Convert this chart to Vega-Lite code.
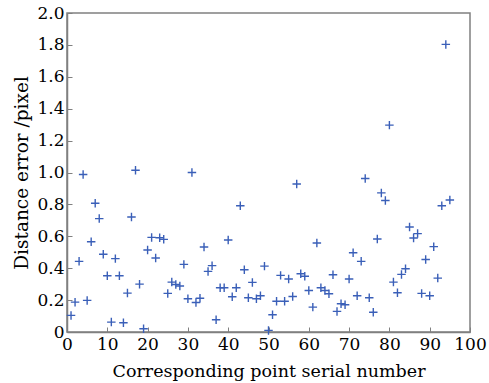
{
  "$schema": "https://vega.github.io/schema/vega-lite/v6.json",
  "width": 403,
  "height": 319,
  "autosize": "none",
  "padding": {"left": 67, "top": 13, "right": 19, "bottom": 51},
  "background": "white",
  "config": {
    "view": {"stroke": "#808080", "strokeWidth": 1.5},
    "font": "DejaVu Serif"
  },
  "data": {
    "values": [
      {"n": 1, "e": 0.104}, {"n": 2, "e": 0.187}, {"n": 3, "e": 0.443}, {"n": 4, "e": 0.987}, {"n": 5, "e": 0.198},
      {"n": 6, "e": 0.566}, {"n": 7, "e": 0.807}, {"n": 8, "e": 0.711}, {"n": 9, "e": 0.487}, {"n": 10, "e": 0.353},
      {"n": 11, "e": 0.062}, {"n": 12, "e": 0.46}, {"n": 13, "e": 0.353}, {"n": 14, "e": 0.058}, {"n": 15, "e": 0.244},
      {"n": 16, "e": 0.721}, {"n": 17, "e": 1.014}, {"n": 18, "e": 0.30}, {"n": 19, "e": 0.02}, {"n": 20, "e": 0.514},
      {"n": 21, "e": 0.593}, {"n": 22, "e": 0.464}, {"n": 23, "e": 0.591}, {"n": 24, "e": 0.581}, {"n": 25, "e": 0.242},
      {"n": 26, "e": 0.313}, {"n": 27, "e": 0.298}, {"n": 28, "e": 0.288}, {"n": 29, "e": 0.424}, {"n": 30, "e": 0.208},
      {"n": 31, "e": 1.0}, {"n": 32, "e": 0.185}, {"n": 33, "e": 0.212}, {"n": 34, "e": 0.533}, {"n": 35, "e": 0.38},
      {"n": 36, "e": 0.416}, {"n": 37, "e": 0.077}, {"n": 38, "e": 0.277}, {"n": 39, "e": 0.277}, {"n": 40, "e": 0.577},
      {"n": 41, "e": 0.221}, {"n": 42, "e": 0.277}, {"n": 43, "e": 0.792}, {"n": 44, "e": 0.39}, {"n": 45, "e": 0.215},
      {"n": 46, "e": 0.311}, {"n": 47, "e": 0.208}, {"n": 48, "e": 0.227}, {"n": 49, "e": 0.413}, {"n": 50, "e": 0.01},
      {"n": 51, "e": 0.108}, {"n": 52, "e": 0.193}, {"n": 53, "e": 0.355}, {"n": 54, "e": 0.193}, {"n": 55, "e": 0.332},
      {"n": 56, "e": 0.223}, {"n": 57, "e": 0.928}, {"n": 58, "e": 0.365}, {"n": 59, "e": 0.35}, {"n": 60, "e": 0.26},
      {"n": 61, "e": 0.156}, {"n": 62, "e": 0.558}, {"n": 63, "e": 0.277}, {"n": 64, "e": 0.26}, {"n": 65, "e": 0.24},
      {"n": 66, "e": 0.359}, {"n": 67, "e": 0.129}, {"n": 68, "e": 0.177}, {"n": 69, "e": 0.171}, {"n": 70, "e": 0.332},
      {"n": 71, "e": 0.497}, {"n": 72, "e": 0.227}, {"n": 73, "e": 0.443}, {"n": 74, "e": 0.962}, {"n": 75, "e": 0.215},
      {"n": 76, "e": 0.124}, {"n": 77, "e": 0.583}, {"n": 78, "e": 0.872}, {"n": 79, "e": 0.824}, {"n": 80, "e": 1.297},
      {"n": 81, "e": 0.313}, {"n": 82, "e": 0.246}, {"n": 83, "e": 0.361}, {"n": 84, "e": 0.397}, {"n": 85, "e": 0.658},
      {"n": 86, "e": 0.589}, {"n": 87, "e": 0.617}, {"n": 88, "e": 0.242}, {"n": 89, "e": 0.455}, {"n": 90, "e": 0.227},
      {"n": 91, "e": 0.535}, {"n": 92, "e": 0.338}, {"n": 93, "e": 0.792}, {"n": 94, "e": 1.803}, {"n": 95, "e": 0.828}
    ]
  },
  "mark": {
    "type": "point",
    "shape": "M-1,0L1,0M0,-1L0,1",
    "size": 72,
    "filled": false,
    "stroke": "#3a5fb8",
    "strokeWidth": 1.4,
    "opacity": 1
  },
  "encoding": {
    "x": {
      "field": "n",
      "type": "quantitative",
      "scale": {"domain": [0, 100], "nice": false, "zero": false},
      "axis": {
        "title": "Corresponding point serial number",
        "values": [0, 10, 20, 30, 40, 50, 60, 70, 80, 90, 100],
        "grid": false,
        "domainColor": "#808080",
        "domainWidth": 1.5,
        "tickColor": "#808080",
        "tickSize": -5,
        "labelPadding": 9,
        "labelFontSize": 17,
        "labelColor": "#000000",
        "labelFlush": false,
        "titleFontSize": 17.5,
        "titleFontWeight": "normal",
        "titleColor": "#000000",
        "titlePadding": 10
      }
    },
    "y": {
      "field": "e",
      "type": "quantitative",
      "scale": {"domain": [0, 2], "nice": false},
      "axis": {
        "title": "Distance error /pixel",
        "values": [0, 0.2, 0.4, 0.6, 0.8, 1.0, 1.2, 1.4, 1.6, 1.8, 2.0],
        "labelExpr": "datum.value == 0 ? '0' : format(datum.value, '.1f')",
        "grid": false,
        "domainColor": "#808080",
        "domainWidth": 1.5,
        "tickColor": "#808080",
        "tickSize": -5,
        "labelPadding": 8,
        "labelFontSize": 17,
        "labelColor": "#000000",
        "labelFlush": false,
        "titleFontSize": 18.5,
        "titleFontWeight": "normal",
        "titleColor": "#000000",
        "titlePadding": 5
      }
    }
  }
}
